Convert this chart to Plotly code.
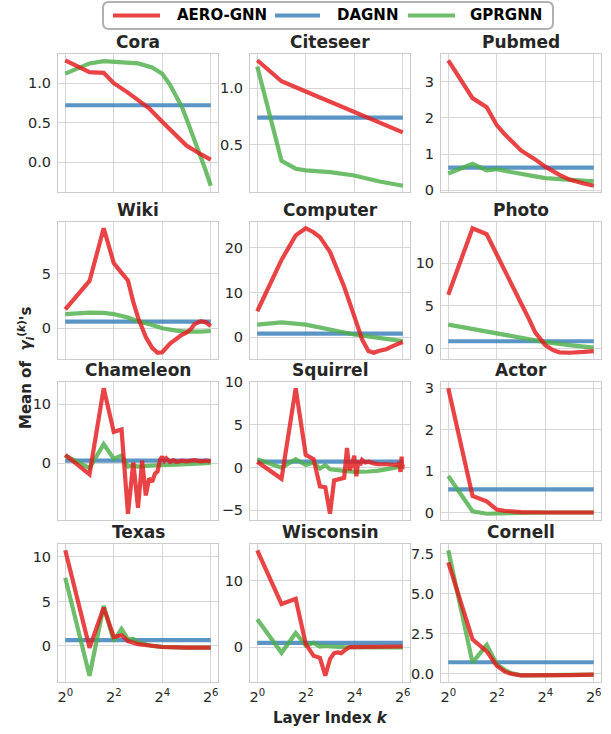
import math
import plotly.graph_objects as go

# ---------------- data ----------------
datasets = ["Cora", "Citeseer", "Pubmed", "Wiki", "Computer", "Photo",
            "Chameleon", "Squirrel", "Actor", "Texas", "Wisconsin", "Cornell"]
series_names = ["AERO-GNN", "DAGNN", "GPRGNN"]
x_tickvals = [1, 4, 16, 64]
x_ticktext = ["2<sup>0</sup>", "2<sup>2</sup>", "2<sup>4</sup>", "2<sup>6</sup>"]

cora_aero_k = [1, 2, 3, 4, 6, 8, 11, 16, 24, 32, 48, 64]
cora_aero = [1.29, 1.14, 1.13, 1.0, 0.88, 0.79, 0.68, 0.51, 0.33, 0.21, 0.10, 0.03]
cora_gpr_k = [1, 2, 3, 4, 8, 12, 16, 20, 24, 28, 32, 40, 48, 56, 64]
cora_gpr = [1.12, 1.25, 1.28, 1.27, 1.25, 1.20, 1.12, 0.98, 0.84, 0.70, 0.55, 0.29, 0.07, -0.12, -0.30]
cora_dagnn = 0.72

citeseer_aero_k = [1, 2, 4, 8, 16, 32, 64]
citeseer_aero = [1.245, 1.06, 0.97, 0.88, 0.79, 0.70, 0.61]
citeseer_gpr_k = [1, 2, 3, 4, 8, 16, 32, 64]
citeseer_gpr = [1.19, 0.36, 0.29, 0.275, 0.26, 0.23, 0.18, 0.14]
citeseer_dagnn = 0.74

pubmed_aero_k = [1, 2, 3, 4, 5, 6, 8, 12, 16, 24, 32, 48, 64]
pubmed_aero = [3.6, 2.55, 2.3, 1.8, 1.55, 1.38, 1.1, 0.85, 0.65, 0.42, 0.29, 0.18, 0.12]
pubmed_gpr_k = [1, 2, 3, 4, 6, 8, 12, 16, 24, 32, 48, 64]
pubmed_gpr = [0.46, 0.73, 0.55, 0.58, 0.50, 0.44, 0.38, 0.33, 0.30, 0.28, 0.26, 0.24]
pubmed_dagnn = 0.62

wiki_aero_k = [1, 2, 3, 4, 5, 6, 7, 8, 10, 12, 14, 16, 20, 24, 28, 32, 36, 40, 48, 56, 64]
wiki_aero = [1.75, 4.35, 9.2, 6.0, 5.1, 4.4, 2.4, 1.0, -0.8, -1.8, -2.25, -2.2, -1.4, -0.95,
             -0.6, -0.4, -0.1, 0.35, 0.65, 0.55, 0.2]
wiki_gpr_k = [1, 2, 3, 4, 6, 8, 12, 16, 24, 32, 48, 64]
wiki_gpr = [1.3, 1.45, 1.42, 1.3, 1.0, 0.65, 0.3, 0.0, -0.22, -0.3, -0.3, -0.25]
wiki_dagnn = 0.62

computer_aero_k = [1, 2, 3, 4, 5, 6, 8, 10, 12, 16, 20, 24, 28, 32, 40, 48, 64]
computer_aero = [5.8, 17.3, 22.8, 24.4, 23.5, 22.4, 19.1, 15.0, 11.3, 4.7, -0.5, -3.1, -3.5,
                 -3.1, -2.7, -2.0, -1.1]
computer_gpr_k = [1, 2, 4, 8, 16, 32, 64]
computer_gpr = [2.8, 3.3, 2.8, 1.7, 0.6, -0.15, -0.9]
computer_dagnn = 0.8

photo_aero_k = [1, 2, 3, 4, 5, 6, 8, 10, 12, 16, 20, 24, 32, 48, 64]
photo_aero = [6.3, 14.1, 13.4, 11.1, 9.3, 7.8, 5.3, 3.5, 1.9, 0.4, -0.2, -0.45, -0.5, -0.4, -0.3]
photo_gpr_k = [1, 2, 4, 8, 16, 32, 64]
photo_gpr = [2.8, 2.3, 1.75, 1.2, 0.75, 0.4, 0.1]
photo_dagnn = 0.85

chameleon_aero_k = [1, 2, 3, 4, 5, 6, 7, 8, 9, 10, 11, 12, 13, 14, 15, 16, 17, 18, 20,
                    22, 24, 28, 32, 40, 48, 56, 64]
chameleon_aero = [1.4, -1.9, 12.7, 5.3, 5.7, -8.6, 0.1, -7.6, 0.4, -5.5, -2.6, -3.2, -1.8,
                  -1.4, 0.5, 1.1, 0.4, 0.8, 0.2, 0.5, 0.2, 0.4, 0.3, 0.5, 0.3, 0.4, 0.3]
chameleon_gpr_k = [1, 2, 3, 4, 5, 6, 7, 8, 10, 12, 16, 24, 32, 48, 64]
chameleon_gpr = [1.25, -0.85, 3.2, 0.75, 1.25, -0.6, -0.4, -0.6, -0.5, -0.5, -0.35, -0.25,
                 -0.15, 0.0, 0.05]
chameleon_dagnn = 0.4

squirrel_aero_k = [1, 2, 3, 4, 5, 6, 7, 8, 9, 10, 11, 12, 13, 14, 15, 16, 17, 18, 19, 20,
                   22, 24, 28, 32, 40, 48, 56, 58, 60, 62, 63, 64]
squirrel_aero = [0.7, -1.3, 9.3, 1.5, 1.0, -2.2, -2.3, -5.4, -1.5, -1.4, -1.3, -1.2, 2.3,
                 -0.3, 0.3, 1.4, -1.0, 0.8, 0.3, 0.9, 0.6, 0.7, 0.5, 0.4, 0.4, 0.3, 0.3,
                 0.6, -0.5, 1.3, -0.2, 0.4]
squirrel_gpr_k = [1, 2, 3, 4, 5, 6, 7, 8, 10, 12, 16, 24, 32, 48, 64]
squirrel_gpr = [1.0, 0.0, 1.0, 0.3, 0.6, -0.1, 0.3, -0.2, -0.3, -0.35, -0.5, -0.45, -0.35,
                -0.05, 0.2]
squirrel_dagnn = 0.7

actor_aero_k = [1, 2, 3, 4, 5, 6, 8, 16, 32, 64]
actor_aero = [3.0, 0.4, 0.27, 0.07, 0.04, 0.02, 0.01, 0.0, 0.0, 0.0]
actor_gpr_k = [1, 2, 3, 4, 6, 8, 16, 64]
actor_gpr = [0.88, 0.03, -0.03, -0.03, -0.02, -0.01, 0.0, 0.0]
actor_dagnn = 0.56

texas_aero_k = [1, 2, 3, 4, 5, 6, 8, 12, 16, 32, 64]
texas_aero = [10.75, -0.2, 4.3, 1.0, 1.2, 0.55, 0.2, -0.05, -0.12, -0.2, -0.2]
texas_gpr_k = [1, 2, 3, 4, 5, 6, 7, 8, 12, 16, 32, 64]
texas_gpr = [7.65, -3.35, 4.5, 0.55, 1.9, 0.75, 0.8, 0.4, 0.0, -0.1, -0.2, -0.2]
texas_dagnn = 0.65

wisconsin_aero_k = [1, 2, 3, 4, 5, 6, 7, 8, 9, 10, 11, 12, 13, 14, 16, 24, 32, 64]
wisconsin_aero = [14.6, 6.5, 7.3, 0.5, -1.3, -1.6, -4.3, -1.8, -0.9, -0.8, -0.9, -0.5,
                  -0.2, 0.0, 0.0, 0.05, 0.1, 0.1]
wisconsin_gpr_k = [1, 2, 3, 4, 5, 6, 7, 8, 12, 16, 32, 64]
wisconsin_gpr = [4.2, -0.85, 2.15, 0.25, 0.65, 0.1, 0.2, 0.1, 0.0, -0.05, -0.05, -0.05]
wisconsin_dagnn = 0.65

cornell_aero_k = [1, 2, 3, 4, 5, 6, 8, 16, 32, 64]
cornell_aero = [6.95, 2.15, 1.4, 0.5, 0.15, 0.0, -0.1, -0.12, -0.08, -0.05]
cornell_gpr_k = [1, 2, 3, 4, 5, 6, 8, 16, 32, 64]
cornell_gpr = [7.7, 0.7, 1.8, 0.6, 0.25, 0.05, -0.1, -0.1, -0.07, -0.05]
cornell_dagnn = 0.72

dagnn_k = [1, 64]

y_ticks = {
    "Cora": [0, 0.5, 1.0], "Citeseer": [0.5, 1.0], "Pubmed": [0, 1, 2, 3],
    "Wiki": [0, 5], "Computer": [0, 10, 20], "Photo": [0, 5, 10],
    "Chameleon": [0, 10], "Squirrel": [-5, 0, 5, 10], "Actor": [0, 1, 2, 3],
    "Texas": [0, 5, 10], "Wisconsin": [0, 10], "Cornell": [0, 2.5, 5.0, 7.5],
}
y_fmt = {"Cora": ".1f", "Citeseer": ".1f", "Cornell": ".1f"}

panel_data = {
    "Cora": (cora_aero_k, cora_aero, cora_gpr_k, cora_gpr, cora_dagnn),
    "Citeseer": (citeseer_aero_k, citeseer_aero, citeseer_gpr_k, citeseer_gpr, citeseer_dagnn),
    "Pubmed": (pubmed_aero_k, pubmed_aero, pubmed_gpr_k, pubmed_gpr, pubmed_dagnn),
    "Wiki": (wiki_aero_k, wiki_aero, wiki_gpr_k, wiki_gpr, wiki_dagnn),
    "Computer": (computer_aero_k, computer_aero, computer_gpr_k, computer_gpr, computer_dagnn),
    "Photo": (photo_aero_k, photo_aero, photo_gpr_k, photo_gpr, photo_dagnn),
    "Chameleon": (chameleon_aero_k, chameleon_aero, chameleon_gpr_k, chameleon_gpr, chameleon_dagnn),
    "Squirrel": (squirrel_aero_k, squirrel_aero, squirrel_gpr_k, squirrel_gpr, squirrel_dagnn),
    "Actor": (actor_aero_k, actor_aero, actor_gpr_k, actor_gpr, actor_dagnn),
    "Texas": (texas_aero_k, texas_aero, texas_gpr_k, texas_gpr, texas_dagnn),
    "Wisconsin": (wisconsin_aero_k, wisconsin_aero, wisconsin_gpr_k, wisconsin_gpr, wisconsin_dagnn),
    "Cornell": (cornell_aero_k, cornell_aero, cornell_gpr_k, cornell_gpr, cornell_dagnn),
}

# ---------------- style ----------------
W, H = 611, 734
RED = "rgba(228,26,28,0.82)"
BLUE = "rgba(55,126,184,0.82)"
GREEN = "rgba(77,175,74,0.82)"
series_colors = {"AERO-GNN": RED, "DAGNN": BLUE, "GPRGNN": GREEN}
GRID = "#d6d6d6"
SPINE = "#cccccc"
TXT = "#262626"
FONT = "DejaVu Sans"
LW = 4.2

cols_px = [(58, 218), (250, 410), (441, 601)]
rows_px = [(54, 192), (222, 359), (382, 520), (544, 682)]


def px(x):
    return x / W


def py(y):
    return 1 - y / H


fig = go.Figure()
layout = dict(width=W, height=H, margin=dict(l=0, r=0, t=0, b=0, autoexpand=False),
              paper_bgcolor="white", plot_bgcolor="white", showlegend=False,
              font=dict(family=FONT, color=TXT, size=14.5))
annotations = []
shapes = []

xr = [math.log10(2 ** -0.3), math.log10(2 ** 6.3)]

for i, name in enumerate(datasets):
    r, c = divmod(i, 3)
    n = i + 1
    xa = "x" if n == 1 else f"x{n}"
    ya = "y" if n == 1 else f"y{n}"
    ak, av, gk, gv, dv = panel_data[name]
    fig.add_trace(go.Scatter(x=dagnn_k, y=[dv, dv], mode="lines", name="DAGNN",
                             line=dict(color=BLUE, width=LW), xaxis=xa, yaxis=ya))
    fig.add_trace(go.Scatter(x=gk, y=gv, mode="lines", name="GPRGNN",
                             line=dict(color=GREEN, width=LW), xaxis=xa, yaxis=ya))
    fig.add_trace(go.Scatter(x=ak, y=av, mode="lines", name="AERO-GNN",
                             line=dict(color=RED, width=LW), xaxis=xa, yaxis=ya))
    allv = list(av) + list(gv) + [dv]
    lo, hi = min(allv), max(allv)
    pad = 0.05 * (hi - lo)
    x0, x1 = cols_px[c]
    t0, b0 = rows_px[r]
    xkey = "xaxis" if n == 1 else f"xaxis{n}"
    ykey = "yaxis" if n == 1 else f"yaxis{n}"
    layout[xkey] = dict(domain=[px(x0), px(x1)], anchor=ya, type="log", range=xr,
                        tickvals=x_tickvals, ticktext=x_ticktext,
                        showticklabels=(r == 3), showgrid=True, gridcolor=GRID, gridwidth=1,
                        showline=True, mirror=True, linecolor=SPINE, linewidth=1,
                        ticks="", zeroline=False, ticklabelstandoff=2,
                        tickfont=dict(family=FONT, size=14.5, color=TXT))
    layout[ykey] = dict(domain=[py(b0), py(t0)], anchor=xa,
                        range=[lo - pad, hi + pad], tickvals=y_ticks[name],
                        tickformat=y_fmt.get(name, "d"),
                        showgrid=True, gridcolor=GRID, gridwidth=1,
                        showline=True, mirror=True, linecolor=SPINE, linewidth=1,
                        ticks="", zeroline=False, ticklabelstandoff=3,
                        tickfont=dict(family=FONT, size=14.5, color=TXT))
    annotations.append(dict(text=f"<b>{name}</b>", x=px((x0 + x1) / 2), y=py(t0),
                            xref="paper", yref="paper", xanchor="center", yanchor="bottom",
                            showarrow=False, yshift=0,
                            font=dict(family=FONT, size=17, color=TXT)))

annotations.append(dict(text="<b>Layer Index <i>k</i></b>", x=px(330), y=py(718),
                        xref="paper", yref="paper", xanchor="center", yanchor="middle",
                        showarrow=False, font=dict(family=FONT, size=15, color=TXT)))
annotations.append(dict(text="<b>Mean of  <i>γ</i><sub><i>i</i></sub><sup>(<i>k</i>)</sup>'s</b>",
                        x=px(25), y=py(368), xref="paper", yref="paper",
                        xanchor="center", yanchor="middle", textangle=-90,
                        showarrow=False, font=dict(family=FONT, size=15, color=TXT)))

# ---- legend (drawn as a framed key) ----
lx0, lx1, ly0, ly1, rad = 103, 553, 2, 29, 6
path = (f"M {px(lx0 + rad)},{py(ly0)} L {px(lx1 - rad)},{py(ly0)} "
        f"Q {px(lx1)},{py(ly0)} {px(lx1)},{py(ly0 + rad)} L {px(lx1)},{py(ly1 - rad)} "
        f"Q {px(lx1)},{py(ly1)} {px(lx1 - rad)},{py(ly1)} L {px(lx0 + rad)},{py(ly1)} "
        f"Q {px(lx0)},{py(ly1)} {px(lx0)},{py(ly1 - rad)} L {px(lx0)},{py(ly0 + rad)} "
        f"Q {px(lx0)},{py(ly0)} {px(lx0 + rad)},{py(ly0)} Z")
shapes.append(dict(type="path", path=path, xref="paper", yref="paper",
                   line=dict(color="#b0b0b0", width=2), fillcolor="white", layer="above"))
key_line_x = [(113, 160), (275, 320), (408, 455)]
key_text_x = [175, 335, 468]
ly_mid = (ly0 + ly1) / 2
for nm, (a, b), tx in zip(series_names, key_line_x, key_text_x):
    shapes.append(dict(type="line", xref="paper", yref="paper", x0=px(a), x1=px(b),
                       y0=py(ly_mid), y1=py(ly_mid),
                       line=dict(color=series_colors[nm], width=LW), layer="above"))
    annotations.append(dict(text=f"<b>{nm}</b>", x=px(tx), y=py(ly_mid), xref="paper",
                            yref="paper", xanchor="left", yanchor="middle", showarrow=False,
                            font=dict(family=FONT, size=15, color="black")))

layout["annotations"] = annotations
layout["shapes"] = shapes
fig.update_layout(**layout)
fig.write_html("out.html", config={"displayModeBar": False},
               post_script="document.body.style.margin='0';document.body.style.padding='0';")
